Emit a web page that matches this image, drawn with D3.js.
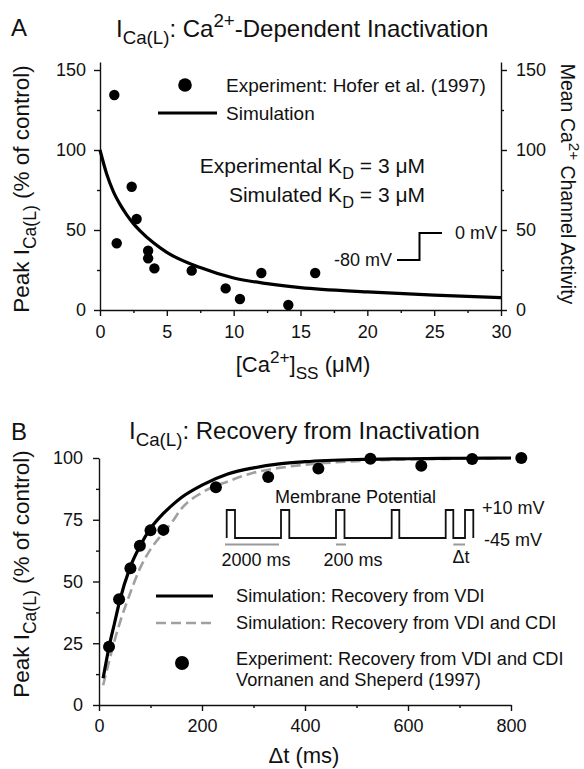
<!DOCTYPE html>
<html>
<head>
<meta charset="utf-8">
<script src="https://cdn.jsdelivr.net/npm/d3@7"></script>
<style>
  body { margin: 0; background: #fff; }
  svg text { font-family: "Liberation Sans", Arial, Helvetica, sans-serif; fill: #111; }
  .axis path, .axis line { stroke: #111; stroke-width: 1.4; }
  .axis text { font-size: 18px; fill: #111; }
</style>
</head>
<body>
<svg id="fig" width="584" height="769"></svg>
<script>
// ---------- Panel A: Ca-dependent inactivation ----------
var caExpX = [1.07, 1.25, 2.37, 2.74, 3.6, 3.6, 4.07, 6.86, 9.4, 10.47, 12.07, 14.09, 16.1];
var caExpY = [134.4, 41.7, 77, 56.9, 37, 32.3, 26, 24.6, 13.5, 6.9, 23.1, 3.1, 23.1];
var caSimX = [0, 0.5, 1, 1.5, 2, 2.5, 3, 4, 5, 7.5, 10, 12.5, 15, 20, 25, 30];
var caSimY = [100, 85, 74, 66, 59.5, 54, 49.5, 42, 36, 26.5, 20, 16.5, 14, 11.3, 9.3, 7.7];
var caXTicks = [0, 5, 10, 15, 20, 25, 30];
var caXMinor = [2.5, 7.5, 12.5, 17.5, 22.5, 27.5];
var caYTicks = [0, 50, 100, 150];
var caYMinor = [25, 75, 125];
var stepTimes = [0, 1, 1, 2];
var stepVolts = [-80, -80, 0, 0];

// ---------- Panel B: recovery from inactivation ----------
var recExpX = [19.5, 39, 61, 79.4, 100, 125, 227, 328.5, 426, 527, 625.8, 724.6, 820];
var recExpY = [23.6, 42.8, 55.4, 64.5, 70.7, 70.9, 88.2, 92.3, 95.7, 99.7, 96.9, 99.6, 100];
var recSimT = [8, 20, 30, 40, 60, 80, 100, 120, 140, 160, 200, 250, 300, 350, 400, 500, 600, 700, 800];
var recVdi  = [10.8, 24, 33, 42, 55.5, 64.5, 71.5, 76.5, 80.5, 84, 89, 93.5, 96, 97.6, 98.5, 99.4, 99.7, 99.9, 100];
var recBoth = [8, 18, 26, 33, 45, 55.5, 63, 68.5, 73.5, 79.5, 86, 90.5, 94, 96, 97.3, 98.7, 99.4, 99.7, 99.9];
var recXTicks = [0, 200, 400, 600, 800];
var recXMinor = [100, 300, 500, 700];
var recYTicks = [0, 25, 50, 75, 100];
var recYMinor = [12.5, 37.5, 62.5, 87.5];
// pulse protocol sketch (schematic time units), edges alternate up/down
var pulseEdges = [0, 8.3, 54.3, 62.6, 109.3, 117.8, 165, 172.6, 219, 226.6, 238.3, 246.6];

var svg = d3.select("#fig");
svg.append("rect").attr("width", 584).attr("height", 769).attr("fill", "#fff");

function zip(a, b) { return a.map(function(v, i){ return [v, b[i]]; }); }

// helper: text with sub / sup parts, parts = [[text, "n"|"sub"|"sup"], ...]
function richText(g, parts, size) {
	var t = g.append("text").style("font-size", size + "px");
	var shift = 0;
	parts.forEach(function(p){
		var target = p[1] == "sub" ? 0.3 : (p[1] == "sup" ? -0.42 : 0);
		var s = t.append("tspan").text(p[0]);
		s.attr("dy", ((target - shift) * size).toFixed(2));
		if (p[1] != "n") s.style("font-size", (size * 0.78) + "px");
		shift = target;
	});
	return t;
}

function drawAxis(g, axis, minorAxis) {
	g.call(axis);
	if (minorAxis) g.call(function(sel){
		var m = sel.append("g").call(minorAxis);
		m.select(".domain").remove();
		m.selectAll("text").remove();
	});
}

// ================= Panel A =================
var xA = d3.scaleLinear().domain([0, 30]).range([100, 501]);
var yA = d3.scaleLinear().domain([0, 155]).range([310, 62]);

var gA = svg.append("g");

gA.append("g").attr("class", "axis").attr("transform", "translate(0,310)")
	.call(function(g){
		drawAxis(g, d3.axisBottom(xA).tickValues(caXTicks).tickSize(6).tickSizeOuter(0).tickPadding(9),
			d3.axisBottom(xA).tickValues(caXMinor).tickSize(3).tickFormat(""));
	});
gA.append("g").attr("class", "axis").attr("transform", "translate(100,0)")
	.call(function(g){
		drawAxis(g, d3.axisLeft(yA).tickValues(caYTicks).tickSize(6).tickSizeOuter(0).tickPadding(8),
			d3.axisLeft(yA).tickValues(caYMinor).tickSize(3).tickFormat(""));
	});
gA.append("g").attr("class", "axis").attr("transform", "translate(501,0)")
	.call(function(g){
		drawAxis(g, d3.axisRight(yA).tickValues(caYTicks).tickSize(6).tickSizeOuter(0).tickPadding(9),
			d3.axisRight(yA).tickValues(caYMinor).tickSize(3).tickFormat(""));
	});

var lineA = d3.line().x(function(d){ return xA(d[0]); }).y(function(d){ return yA(d[1]); })
	.curve(d3.curveMonotoneX);
gA.append("path").datum(zip(caSimX, caSimY))
	.attr("d", lineA).attr("fill", "none").attr("stroke", "#000").attr("stroke-width", 3.2);

gA.selectAll("circle.exp").data(zip(caExpX, caExpY)).enter().append("circle")
	.attr("class", "exp")
	.attr("cx", function(d){ return xA(d[0]); })
	.attr("cy", function(d){ return yA(d[1]); })
	.attr("r", 5.2).attr("fill", "#000");

// legend A
gA.append("circle").attr("cx", 185).attr("cy", 85).attr("r", 6.8).attr("fill", "#000");
gA.append("text").attr("x", 226).attr("y", 92).style("font-size", "19px").text("Experiment: Hofer et al. (1997)");
gA.append("line").attr("x1", 158).attr("x2", 217).attr("y1", 113).attr("y2", 113)
	.attr("stroke", "#000").attr("stroke-width", 3.2);
gA.append("text").attr("x", 226).attr("y", 120).style("font-size", "19px").text("Simulation");

richText(gA, [["Experimental K", "n"], ["D", "sub"], [" = 3 \u03bcM", "n"]], 21)
	.attr("x", 425).attr("y", 173).attr("text-anchor", "end");
richText(gA, [["Simulated K", "n"], ["D", "sub"], [" = 3 \u03bcM", "n"]], 21)
	.attr("x", 425).attr("y", 202).attr("text-anchor", "end");

// voltage step sketch
var xS = d3.scaleLinear().domain([0, 2]).range([397, 442]);
var yS = d3.scaleLinear().domain([-80, 0]).range([260, 233]);
gA.append("path").datum(zip(stepTimes, stepVolts))
	.attr("d", d3.line().x(function(d){ return xS(d[0]); }).y(function(d){ return yS(d[1]); }))
	.attr("fill", "none").attr("stroke", "#000").attr("stroke-width", 2);
gA.append("text").attr("x", 392).attr("y", 266).attr("text-anchor", "end").style("font-size", "18px").text("-80 mV");
gA.append("text").attr("x", 455).attr("y", 239).style("font-size", "18px").text("0 mV");

// titles A
svg.append("text").attr("x", 11).attr("y", 36).style("font-size", "24px").text("A");
richText(svg, [["I", "n"], ["Ca(L)", "sub"], [": Ca", "n"], ["2+", "sup"], ["-Dependent Inactivation", "n"]], 24)
	.attr("x", 116).attr("y", 37);
richText(svg, [["Peak I", "n"], ["Ca(L)", "sub"], [" (% of control)", "n"]], 22.5)
	.attr("text-anchor", "middle").attr("transform", "translate(29,189) rotate(-90)");
richText(svg, [["Mean Ca", "n"], ["2+", "sup"], [" Channel Activity", "n"]], 19.5)
	.attr("text-anchor", "middle").attr("transform", "translate(561,184) rotate(90)");
richText(svg, [["[Ca", "n"], ["2+", "sup"], ["]", "n"], ["SS", "sub"], [" (\u03bcM)", "n"]], 22)
	.attr("text-anchor", "middle").attr("x", 303).attr("y", 372);

// ================= Panel B =================
var xB = d3.scaleLinear().domain([0, 800]).range([99, 511]);
var yB = d3.scaleLinear().domain([0, 100]).range([705, 458]);

var gB = svg.append("g");

gB.append("g").attr("class", "axis").attr("transform", "translate(0,705)")
	.call(function(g){
		drawAxis(g, d3.axisBottom(xB).tickValues(recXTicks).tickSize(6).tickSizeOuter(0).tickPadding(8),
			d3.axisBottom(xB).tickValues(recXMinor).tickSize(3).tickFormat(""));
	});
gB.append("g").attr("class", "axis").attr("transform", "translate(99,0)")
	.call(function(g){
		drawAxis(g, d3.axisLeft(yB).tickValues(recYTicks).tickSize(6).tickSizeOuter(0).tickPadding(10),
			d3.axisLeft(yB).tickValues(recYMinor).tickSize(3).tickFormat(""));
	});

var lineB = d3.line().x(function(d){ return xB(d[0]); }).y(function(d){ return yB(d[1]); })
	.curve(d3.curveMonotoneX);
gB.append("path").datum(zip(recSimT, recBoth))
	.attr("d", lineB).attr("fill", "none").attr("stroke", "#a0a0a0")
	.attr("stroke-width", 2.6).attr("stroke-dasharray", "10,5");
gB.append("path").datum(zip(recSimT, recVdi))
	.attr("d", lineB).attr("fill", "none").attr("stroke", "#000").attr("stroke-width", 3.2);

gB.selectAll("circle.exp").data(zip(recExpX, recExpY)).enter().append("circle")
	.attr("class", "exp")
	.attr("cx", function(d){ return xB(d[0]); })
	.attr("cy", function(d){ return yB(d[1]); })
	.attr("r", 6).attr("fill", "#000");

// pulse protocol inset
var xP = d3.scaleLinear().domain([0, 246.6]).range([226.7, 473.3]);
var yP = d3.scaleLinear().domain([-45, 10]).range([538, 510]);
var pulsePts = [[pulseEdges[0], -45]];
pulseEdges.forEach(function(t, i){
	var up = i % 2 == 0;
	pulsePts.push([t, up ? -45 : 10]);
	pulsePts.push([t, up ? 10 : -45]);
});
gB.append("path").datum(pulsePts)
	.attr("d", d3.line().x(function(d){ return xP(d[0]); }).y(function(d){ return yP(d[1]); }))
	.attr("fill", "none").attr("stroke", "#111").attr("stroke-width", 1.8);
// scale bars under the trace
[[pulseEdges[0] - 1.7, pulseEdges[2] - 2], [pulseEdges[4], pulseEdges[5] + 1.5], [pulseEdges[9], pulseEdges[10]]]
	.forEach(function(b){
		gB.append("line").attr("x1", xP(b[0])).attr("x2", xP(b[1])).attr("y1", 544.5).attr("y2", 544.5)
			.attr("stroke", "#999").attr("stroke-width", 2);
	});
gB.append("text").attr("x", 275).attr("y", 503).style("font-size", "18px").text("Membrane Potential");
gB.append("text").attr("x", 256).attr("y", 566).attr("text-anchor", "middle").style("font-size", "18px").text("2000 ms");
gB.append("text").attr("x", 353).attr("y", 566).attr("text-anchor", "middle").style("font-size", "18px").text("200 ms");
gB.append("text").attr("x", 461).attr("y", 563).attr("text-anchor", "middle").style("font-size", "18px").text("\u0394t");
gB.append("text").attr("x", 482).attr("y", 514).style("font-size", "18px").text("+10 mV");
gB.append("text").attr("x", 484).attr("y", 546).style("font-size", "18px").text("-45 mV");

// legend B
gB.append("line").attr("x1", 156).attr("x2", 213).attr("y1", 596).attr("y2", 596)
	.attr("stroke", "#000").attr("stroke-width", 3.2);
gB.append("line").attr("x1", 156).attr("x2", 213).attr("y1", 623).attr("y2", 623)
	.attr("stroke", "#a0a0a0").attr("stroke-width", 2.6).attr("stroke-dasharray", "10,5");
gB.append("circle").attr("cx", 182).attr("cy", 663).attr("r", 7).attr("fill", "#000");
var legB = [["Simulation: Recovery from VDI", 602], ["Simulation: Recovery from VDI and CDI", 629],
	["Experiment: Recovery from VDI and CDI", 665], ["Vornanen and Sheperd (1997)", 686]];
legB.forEach(function(l){
	gB.append("text").attr("x", 236).attr("y", l[1]).style("font-size", "18.2px").text(l[0]);
});

// titles B
svg.append("text").attr("x", 11).attr("y", 440).style("font-size", "24px").text("B");
richText(svg, [["I", "n"], ["Ca(L)", "sub"], [": Recovery from Inactivation", "n"]], 24)
	.attr("x", 129).attr("y", 439);
richText(svg, [["Peak I", "n"], ["Ca(L)", "sub"], [" (% of control)", "n"]], 22.5)
	.attr("text-anchor", "middle").attr("transform", "translate(29,574) rotate(-90)");
svg.append("text").attr("x", 304).attr("y", 763).attr("text-anchor", "middle")
	.style("font-size", "22px").text("\u0394t (ms)");
</script>
</body>
</html>
